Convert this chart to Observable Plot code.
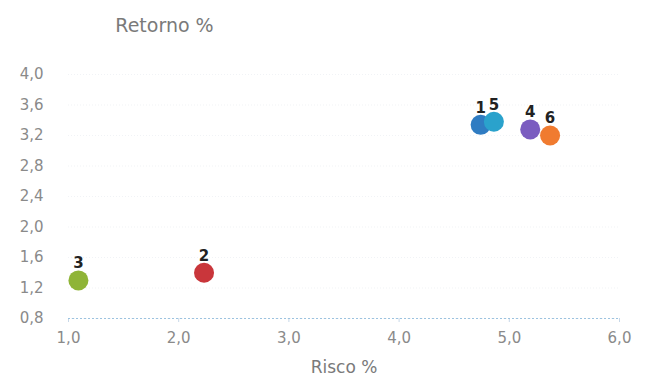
<!DOCTYPE html>
<html><head><meta charset="utf-8">
<script src="https://cdn.jsdelivr.net/npm/d3@7"></script>
<script src="https://cdn.jsdelivr.net/npm/@observablehq/plot@0.6"></script>
<style>body{margin:0;background:#fff;font-family:"DejaVu Sans",sans-serif;}</style>
</head><body><div id="chart"></div>
<script>
const labels = ["1","2","3","4","5","6"];
const risco = [4.74, 2.23, 1.09, 5.19, 4.86, 5.37];
const retorno = [3.34, 1.40, 1.30, 3.28, 3.38, 3.20];
const colors = ["#2f7cc2","#c9363b","#8fb437","#7a5cc0","#2aa2cc","#f07b30"];
const xTicks = [1,2,3,4,5,6];
const yTicks = [0.8,1.2,1.6,2.0,2.4,2.8,3.2,3.6,4.0];
const xLabel = "Risco %";
const yLabel = "Retorno %";

const data = labels.map((l,i)=>({label:l, x:risco[i], y:retorno[i], c:colors[i]}));
const fmt = d => d.toFixed(1).replace(".", ",");

const chart = Plot.plot({
  width: 648, height: 381,
  marginLeft: 68, marginRight: 29, marginTop: 74, marginBottom: 63,
  style: {fontFamily: "DejaVu Sans, sans-serif", fontSize: "15px", color: "#8a8a8a", background: "transparent"},
  x: {domain: [1, 6], ticks: xTicks, tickFormat: fmt, tickSize: 0, tickPadding: 14, label: null},
  y: {domain: [0.8, 4.0], ticks: yTicks, tickFormat: fmt, tickSize: 0, tickPadding: 25, label: null},
  marks: [
    Plot.gridY(yTicks, {stroke: "#e4e8ee", strokeOpacity: 0.5, strokeDasharray: "1,2"}),
    Plot.ruleX(xTicks, {y1: 0.8, y2: 0.8, insetBottom: -4, stroke: "#c8d8e8"}),
    Plot.ruleY([0.8], {stroke: "#9cc3e0", strokeDasharray: "2,2"}),
    Plot.dot(data, {x: "x", y: "y", r: 10, fill: "c"}),
    Plot.text(data, {x: "x", y: "y", text: "label", dy: -17, fontWeight: "bold", fontSize: 15, fill: "#222"}),
    Plot.text([yLabel], {frameAnchor: "top-left", dx: 96, dy: -56, textAnchor: "middle", fontSize: 19, fill: "#7a7a7a"}),
    Plot.text([xLabel], {frameAnchor: "bottom", dy: 54, fontSize: 17, fill: "#7a7a7a"})
  ]
});
document.getElementById("chart").appendChild(chart);
</script>
</body></html>
